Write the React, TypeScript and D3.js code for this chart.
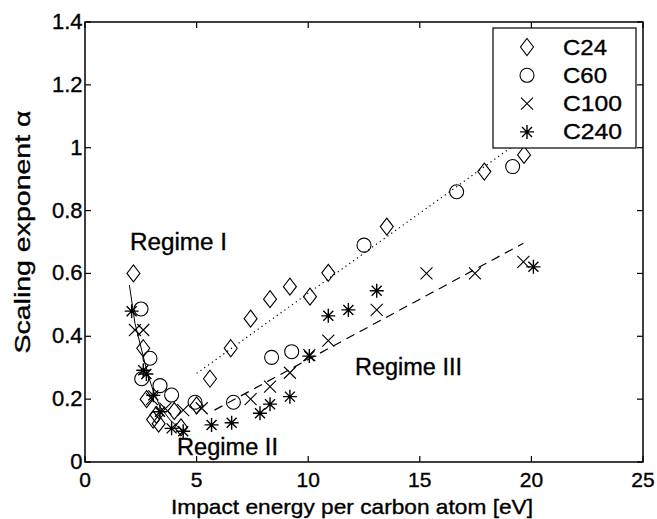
import React from "react";
import * as d3 from "d3";

const xTicks = [0, 5, 10, 15, 20, 25];
const yTicks = [0, 0.2, 0.4, 0.6, 0.8, 1, 1.2, 1.4];
const yTickLabels = ["0", "0.2", "0.4", "0.6", "0.8", "1", "1.2", "1.4"];

const c24: [number, number][] = [
  [2.17, 0.6], [2.61, 0.362], [2.76, 0.2], [3.05, 0.135], [3.2, 0.15], [3.3, 0.122], [4.0, 0.162],
  [4.3, 0.11], [5.0, 0.18], [5.6, 0.265], [6.53, 0.362], [7.42, 0.456], [8.29, 0.518],
  [9.18, 0.558], [10.08, 0.526], [10.9, 0.602], [13.52, 0.749], [17.89, 0.924], [19.67, 0.977],
];
const c60: [number, number][] = [
  [2.51, 0.487], [2.91, 0.33], [2.54, 0.265], [3.36, 0.243], [3.88, 0.213], [4.93, 0.19],
  [6.65, 0.19], [8.36, 0.333], [9.26, 0.351], [12.5, 0.69], [16.65, 0.86], [19.16, 0.94],
];
const c100: [number, number][] = [
  [2.24, 0.42], [2.61, 0.42], [3.0, 0.2], [3.6, 0.17], [4.4, 0.165], [5.23, 0.171],
  [7.42, 0.2], [8.29, 0.24], [9.18, 0.284], [10.05, 0.34], [10.9, 0.386], [13.07, 0.484],
  [15.3, 0.6], [17.47, 0.6], [19.64, 0.637],
];
const c240: [number, number][] = [
  [2.09, 0.48], [2.61, 0.292], [2.75, 0.28], [3.06, 0.212], [3.36, 0.16], [3.88, 0.107],
  [4.4, 0.098], [5.67, 0.118], [6.57, 0.125], [7.84, 0.155], [8.29, 0.184], [9.18, 0.208],
  [10.05, 0.337], [10.9, 0.465], [11.8, 0.484], [13.07, 0.545], [20.09, 0.621],
];
const regimeIFit: [number, number][] = [
  [1.99, 0.563], [2.24, 0.441], [2.54, 0.356], [2.76, 0.293], [2.99, 0.24],
  [3.36, 0.176], [3.81, 0.134], [4.4, 0.096],
];
const dottedFit: [number, number][] = [[5.0, 0.282], [20.0, 1.047]];
const dashedFit: [number, number][] = [[5.8, 0.165], [19.64, 0.696]];

const legendLabels = ["C24", "C60", "C100", "C240"];

const W = 657, H = 519;
const L = 85, R = 643, T = 22, B = 462;
const FONT = "'Liberation Sans', Arial, Helvetica, sans-serif";
const TS = { stroke: "#000", strokeWidth: 0.35 };

function Marker({ kind, x, y }: { kind: string; x: number; y: number }) {
  const sw = 1.1;
  if (kind === "diamond") {
    const w = 6.5, h = 8.5;
    return <path d={`M${x},${y - h}L${x + w},${y}L${x},${y + h}L${x - w},${y}Z`} fill="none" stroke="#000" strokeWidth={sw} />;
  }
  if (kind === "circle") {
    return <circle cx={x} cy={y} r={7} fill="none" stroke="#000" strokeWidth={sw} />;
  }
  if (kind === "cross") {
    const s = 6;
    return <path d={`M${x - s},${y - s}L${x + s},${y + s}M${x - s},${y + s}L${x + s},${y - s}`} stroke="#000" strokeWidth={sw} />;
  }
  const s = 7, d = 5;
  return (
    <path
      d={`M${x},${y - s}L${x},${y + s}M${x - s},${y}L${x + s},${y}M${x - d},${y - d}L${x + d},${y + d}M${x - d},${y + d}L${x + d},${y - d}`}
      stroke="#000" strokeWidth={1.4}
    />
  );
}

export default function App() {
  const x = d3.scaleLinear().domain([0, 25]).range([L, R]);
  const y = d3.scaleLinear().domain([0, 1.4]).range([B, T]);
  const line = d3.line<[number, number]>().x((d) => x(d[0])).y((d) => y(d[1]));
  const series: [string, [number, number][]][] = [
    ["diamond", c24], ["circle", c60], ["cross", c100], ["asterisk", c240],
  ];
  const tl = 6;
  const legX = 493, legY = 28, legW = 143, legH = 120;
  const legLen = [44, 44, 59, 59];
  return (
    <svg width={W} height={H} style={{ position: "absolute", left: 0, top: 0, background: "#fff" }} fontFamily={FONT}>
      <rect x={0} y={0} width={W} height={H} fill="#fff" />
      <path d={line(regimeIFit) || ""} fill="none" stroke="#000" strokeWidth={1} />
      <path d={line(dottedFit) || ""} fill="none" stroke="#000" strokeWidth={1.2} strokeDasharray="1.2 3.5" />
      <path d={line(dashedFit) || ""} fill="none" stroke="#000" strokeWidth={1.2} strokeDasharray="9 6" />
      {series.map(([k, data]) =>
        data.map((d, i) => <Marker key={k + i} kind={k} x={x(d[0])} y={y(d[1])} />)
      )}
      <rect x={L} y={T} width={R - L} height={B - T} fill="none" stroke="#000" strokeWidth={1.5} />
      {xTicks.map((t) => (
        <g key={"xt" + t}>
          <line x1={x(t)} x2={x(t)} y1={B} y2={B - tl} stroke="#000" strokeWidth={1.2} />
          <line x1={x(t)} x2={x(t)} y1={T} y2={T + tl} stroke="#000" strokeWidth={1.2} />
          <text x={x(t)} y={487} textAnchor="middle" fontSize={21} {...TS}>{t}</text>
        </g>
      ))}
      {yTicks.map((t, i) => (
        <g key={"yt" + t}>
          <line x1={L} x2={L + tl} y1={y(t)} y2={y(t)} stroke="#000" strokeWidth={1.2} />
          <line x1={R} x2={R - tl} y1={y(t)} y2={y(t)} stroke="#000" strokeWidth={1.2} />
          <text x={82.5} y={y(t) + 7} textAnchor="end" fontSize={22} {...TS}>{yTickLabels[i]}</text>
        </g>
      ))}
      <text x={171} y={514} fontSize={21} textLength={362} lengthAdjust="spacingAndGlyphs" {...TS}>Impact energy per carbon atom [eV]</text>
      <text transform={`translate(30,232) rotate(-90)`} textAnchor="middle" fontSize={22} textLength={243} lengthAdjust="spacingAndGlyphs" {...TS}>Scaling exponent α</text>
      <text x={130} y={250} fontSize={23} textLength={97} lengthAdjust="spacingAndGlyphs" {...TS}>Regime I</text>
      <text x={177} y={455} fontSize={23} textLength={101} lengthAdjust="spacingAndGlyphs" {...TS}>Regime II</text>
      <text x={355} y={375} fontSize={23} textLength={107} lengthAdjust="spacingAndGlyphs" {...TS}>Regime III</text>
      <rect x={legX} y={legY} width={legW} height={legH} fill="#fff" stroke="#000" strokeWidth={1.2} />
      {legendLabels.map((lab, i) => {
        const yy = 47 + i * 28.3;
        return (
          <g key={lab}>
            <Marker kind={series[i][0]} x={527} y={yy} />
            <text x={563} y={yy + 7.5} fontSize={22} textLength={legLen[i]} lengthAdjust="spacingAndGlyphs" {...TS}>{lab}</text>
          </g>
        );
      })}
    </svg>
  );
}
